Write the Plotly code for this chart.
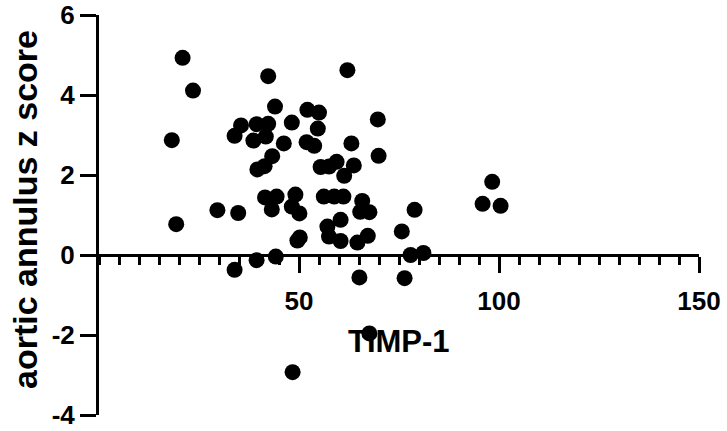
import plotly.graph_objects as go

# TIMP-1 vs aortic annulus z score
timp1 = [20.9, 23.5, 18.2, 19.3, 29.6, 34.8, 33.9, 39.4, 44.2, 42.3,
         62.1, 44.0, 52.1, 55.0, 48.2, 54.7, 35.5, 33.9, 39.4, 42.3,
         38.6, 41.7, 46.2, 51.9, 53.8, 63.1, 69.7, 69.9, 43.3, 41.4,
         39.6, 55.4, 57.5, 59.4, 63.7, 61.3, 41.5, 44.4, 49.1, 43.2,
         48.2, 50.1, 56.2, 58.8, 61.1, 65.8, 65.3, 67.6, 60.4, 57.1,
         57.5, 60.4, 64.6, 67.2, 50.2, 49.6, 78.9, 75.7, 77.9, 81.1,
         65.1, 76.4, 67.6, 48.4, 98.3, 95.9, 100.4]
z_score = [4.93, 4.11, 2.87, 0.77, 1.12, 1.05, -0.37, -0.13, -0.04, 4.47,
           4.62, 3.71, 3.63, 3.56, 3.31, 3.16, 3.24, 2.98, 3.27, 3.28,
           2.86, 2.96, 2.79, 2.82, 2.73, 2.79, 3.39, 2.48, 2.47, 2.22,
           2.14, 2.20, 2.21, 2.33, 2.24, 1.98, 1.44, 1.46, 1.51, 1.14,
           1.21, 1.04, 1.46, 1.46, 1.46, 1.35, 1.08, 1.07, 0.88, 0.71,
           0.46, 0.35, 0.31, 0.48, 0.44, 0.36, 1.13, 0.59, 0.00, 0.05,
           -0.56, -0.58, -1.96, -2.93, 1.83, 1.28, 1.23]

x_ticks = [50, 100, 150]
y_ticks = [-4, -2, 0, 2, 4, 6]
y_labels = ["-4", "-2", "0", "2", "4", "6"]

FONT = "Liberation Sans"

fig = go.Figure()
fig.add_trace(go.Scatter(
    x=timp1, y=z_score, mode="markers",
    marker=dict(color="black", size=16, line=dict(width=0)),
    showlegend=False,
))

fig.update_layout(
    width=727, height=431,
    margin=dict(l=99, r=28, t=15, b=16),
    paper_bgcolor="white", plot_bgcolor="white",
    font=dict(family=FONT, color="black"),
    xaxis=dict(
        range=[0, 150], showgrid=False, zeroline=False, automargin=False,
        showline=True, linecolor="black", linewidth=3,
        anchor="free", position=0.4,
        ticks="outside", ticklen=16, tickwidth=3, tickcolor="black",
        tickvals=x_ticks, ticklabelstandoff=6, ticklabeloverflow="allow",
        tickfont=dict(family=FONT, size=26, weight="bold"),
        minor=dict(dtick=5, tick0=0, ticks="outside", ticklen=8,
                   tickwidth=3, tickcolor="black", showgrid=False),
    ),
    yaxis=dict(
        range=[-4, 6], showgrid=False, zeroline=False, automargin=False,
        showline=True, linecolor="black", linewidth=3,
        ticks="outside", ticklen=16, tickwidth=3, tickcolor="black",
        tickvals=y_ticks, ticktext=y_labels, ticklabeloverflow="allow",
        tickfont=dict(family=FONT, size=26, weight="bold"),
    ),
)

# axis titles placed like the Prism layout
fig.add_annotation(
    x=75, y=-2.15, xref="x", yref="y", text="TIMP-1", showarrow=False,
    xanchor="center", yanchor="middle",
    font=dict(family=FONT, size=31, weight="bold"),
)
fig.add_annotation(
    x=0, y=0.5125, xref="paper", yref="paper", xshift=-74,
    xanchor="center", yanchor="middle",
    text="aortic annulus z score", textangle=-90, showarrow=False,
    font=dict(family=FONT, size=34, weight="bold"),
)

# drop the browser's default body margin so the figure sits at 0,0
fig.write_html("out.html", config={"displayModeBar": False},
               post_script="document.body.style.margin = '0';")
